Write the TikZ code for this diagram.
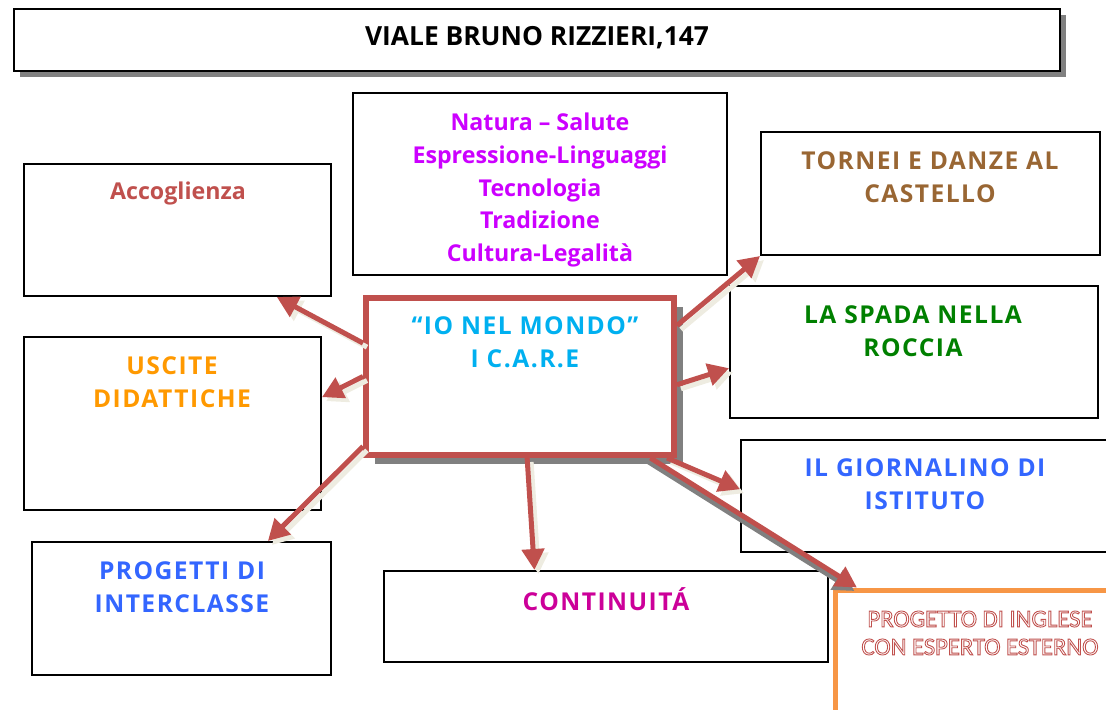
\documentclass[tikz,border=0pt]{standalone}
\usepackage{fontspec}
\setmainfont{Open Sans}
\newfontfamily\capsfont{Open Sans}[LetterSpace=6]
\newfontfamily\inglfont{Carlito}
\usepackage{tikz}
\usetikzlibrary{arrows.meta,shadows}
\definecolor{linecolor}{RGB}{192,80,77}
\definecolor{creamcolor}{RGB}{238,236,225}
\definecolor{shadowcolor}{RGB}{128,128,128}
\definecolor{temicolor}{RGB}{204,0,255}
\definecolor{acccolor}{RGB}{192,80,77}
\definecolor{usccolor}{RGB}{255,153,0}
\definecolor{bluecolor}{RGB}{51,102,255}
\definecolor{contcolor}{RGB}{204,0,153}
\definecolor{mondocolor}{RGB}{0,176,240}
\definecolor{torncolor}{RGB}{153,102,51}
\definecolor{spadacolor}{RGB}{0,128,0}
\definecolor{inglcolor}{RGB}{247,150,70}
\newcommand{\outlinetext}[1]{\special{pdf:literal direct 1 Tr 0.5 w}#1\special{pdf:literal direct 0 Tr 0.4 w}}

\begin{document}
\begin{tikzpicture}[x=0.02cm, y=-0.02cm,
    box/.style={draw=black, line width=0.04cm, fill=white, inner sep=0pt},
    txt/.style={font=\bfseries\fontsize{13.2}{18.7}\selectfont, align=center, inner sep=0pt},
    capstxt/.style={font=\capsfont\bfseries\fontsize{14}{18.7}\selectfont, align=center, inner sep=0pt},
    arrowbase/.style={draw=linecolor, line width=0.1cm, -{Triangle[length=0.42cm,width=0.44cm]}},
    arrowlink/.style={arrowbase, preaction={draw=creamcolor, line width=0.1cm, -{Triangle[length=0.42cm,width=0.44cm]}, transform canvas={shift={(0.08cm,-0.08cm)}}}},
    arrowdark/.style={arrowbase, preaction={draw=shadowcolor, line width=0.1cm, -{Triangle[length=0.42cm,width=0.44cm]}, transform canvas={shift={(-0.05cm,-0.07cm)}}}}]
            \useasboundingbox (0,0) rectangle (1106,710);
            \node[box, minimum width=20.92cm, minimum height=1.24cm, drop shadow={shadow xshift=0.12cm, shadow yshift=-0.12cm, fill=shadowcolor, opacity=1}] (via) at (537,40) {};
            \node[box, minimum width=7.48cm, minimum height=3.64cm] (temi) at (540,184) {};
            \node[box, minimum width=6.14cm, minimum height=2.64cm] (acc) at (177.5,230) {};
            \node[box, minimum width=5.94cm, minimum height=3.46cm] (usc) at (172.5,423.5) {};
            \node[box, minimum width=5.98cm, minimum height=2.66cm] (inter) at (181.5,608.5) {};
            \node[box, minimum width=8.88cm, minimum height=1.82cm] (cont) at (606,616.5) {};
            \node[box, minimum width=6.78cm, minimum height=2.46cm] (torn) at (930.5,193.5) {};
            \node[box, minimum width=7.36cm, minimum height=2.64cm] (spada) at (914,352) {};
            \node[box, minimum width=7.68cm, minimum height=2.24cm] (giorn) at (933,496) {};
            \node[draw=inglcolor, line width=0.1cm, fill=white, minimum width=5.9cm, minimum height=2.8cm] (ingl) at (982.5,660) {};
            \node[draw=linecolor, line width=0.12cm, fill=white, minimum width=6.16cm, minimum height=3.14cm, drop shadow={shadow xshift=0.18cm, shadow yshift=-0.18cm, fill=shadowcolor, opacity=1}] (mondo) at (520,376.5) {};

            \node[txt, font=\bfseries\fontsize{15}{18}\selectfont] (viatxt) at (537,38) {VIALE BRUNO RIZZIERI,147};
            \node[txt, text=temicolor] (temitxt) at (540,190) {Natura – Salute\\Espressione-Linguaggi\\Tecnologia\\Tradizione\\Cultura-Legalità};
            \node[txt, text=acccolor] (acctxt) at (178,193) {Accoglienza};
            \node[capstxt, text=usccolor] (usctxt) at (172,382) {USCITE\\DIDATTICHE};
            \node[capstxt, text=bluecolor] (intertxt) at (182,587) {PROGETTI DI\\INTERCLASSE};
            \node[capstxt, text=contcolor] (conttxt) at (606,599) {CONTINUITÁ};
            \node[capstxt, text=mondocolor] (mondotxt) at (525,342.5) {“IO NEL MONDO”\\I C.A.R.E};
            \node[capstxt, text=torncolor] (torntxt) at (930,177) {TORNEI E DANZE AL\\CASTELLO};
            \node[capstxt, text=spadacolor] (spadatxt) at (913,331.5) {LA SPADA NELLA\\ROCCIA};
            \node[capstxt, text=bluecolor] (giorntxt) at (925,484) {IL GIORNALINO DI\\ISTITUTO};
            \node[txt, text=acccolor, font=\inglfont\fontsize{14}{15.9}\selectfont] (ingltxt) at (980,633) {\outlinetext{PROGETTO DI INGLESE}\\\outlinetext{CON ESPERTO ESTERNO}};

            \draw[arrowlink] (mondo.168.7) -- (acc.326);
            \draw[arrowlink] (mondo.west) -- (usc.10);
            \draw[arrowlink] (mondo.204) -- (inter.38);
            \draw[arrowlink] (mondo.275) -- (cont.147);
            \draw[arrowlink] (mondo.331) -- (giorn.178);
            \draw[arrowdark] (mondo.328) -- (ingl.150);
            \draw[arrowlink] (mondo.18.2) -- (torn.south west);
            \draw[arrowlink] (mondo.-3.5) -- (spada.185);
        \end{tikzpicture}
\end{document}
